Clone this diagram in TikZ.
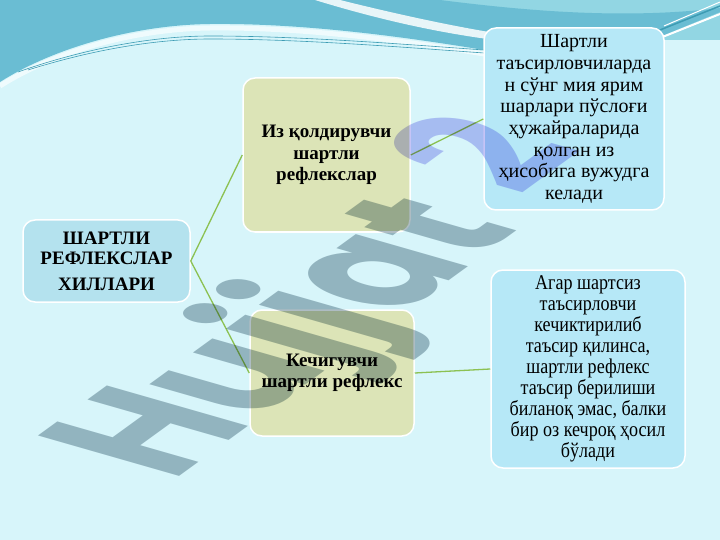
\documentclass[tikz,border=0pt]{standalone}
\usepackage{fontspec}
\setmainfont{Liberation Serif}
\newfontfamily\narrowfont[FakeStretch=0.86]{Liberation Serif}
\newfontfamily\markfont{Poppins}
\definecolor{slidebg}{HTML}{D7F5FA}
\definecolor{waveteal}{HTML}{6ABDD3}
\definecolor{wavelight}{HTML}{92D6E3}
\definecolor{waveline}{HTML}{3D9CB4}
\definecolor{rootfill}{HTML}{B4E2EE}
\definecolor{kindfill}{HTML}{DCE4B7}
\definecolor{notefill}{HTML}{B6E8F7}
\definecolor{linkgreen}{HTML}{8CC152}
\definecolor{markgray}{HTML}{AEBCC3}
\definecolor{markblue}{HTML}{C6C4F6}

\begin{document}
\begin{tikzpicture}[x=1pt,y=-1pt,
  box/.style={draw=white,line width=1.5pt,rounded corners=12pt,inner sep=0pt,align=center},
  rootbox/.style={box,fill=rootfill,font=\fontsize{19}{20}\selectfont\bfseries},
  kindbox/.style={box,fill=kindfill,font=\fontsize{19}{21.5}\selectfont\bfseries},
  notebox/.style={box,fill=notefill},
  link/.style={linkgreen,line width=1.3pt}]

\useasboundingbox (0,0) rectangle (720,540);
\clip (0,0) rectangle (720,540);
\fill[slidebg] (0,0) rectangle (720,540);

% wave at the top
\fill[wavelight] (440,0) -- (720,0) -- (720,40) -- (484,40) -- cycle;
\fill[waveteal] (0,0) -- (440,0) .. controls (520,10) and (620,20) .. (720,8) -- (720,12) -- (664,35) -- (484,50)
  .. controls (400,36) and (300,23) .. (210,24) .. controls (130,25) and (50,50) .. (0,82) -- cycle;
\draw[white,line width=5pt,opacity=.6] (0,86) .. controls (50,54) and (130,29) .. (210,28) .. controls (300,27) and (400,40) .. (484,54);
\draw[waveline,line width=.6pt] (18,72) .. controls (80,50) and (150,36) .. (210,36) .. controls (300,36) and (400,44) .. (484,50);
\draw[waveline,line width=.6pt] (28,70) .. controls (85,52) and (150,39) .. (210,39) .. controls (300,39) and (400,47) .. (484,53);
\fill[white,opacity=.85] (315,0) .. controls (380,20) and (440,33) .. (495,40) -- (495,33) .. controls (440,24) and (380,10) .. (340,0) -- cycle;
\draw[white,line width=2pt] (655,40) -- (720,14);
\draw[waveline,line width=1.5pt] (660,30) -- (720,6);
\draw[white,line width=1pt] (664,26) -- (720,2);

% boxes
\node[rootbox,minimum width=167pt,minimum height=82pt] (root) at (106.5,261) {ШАРТЛИ\\РЕФЛЕКСЛАР\\[6pt]ХИЛЛАРИ};
\node[kindbox,minimum width=167pt,minimum height=154pt] (iz) at (326.5,155) {Из қолдирувчи\\шартли\\рефлекслар};
\node[kindbox,minimum width=164pt,minimum height=126pt] (kech) at (332,373) {Кечигувчи\\шартли рефлекс};
\node[notebox,minimum width=180pt,minimum height=182pt,font=\fontsize{20}{21.7}\selectfont] (izinfo) at (574,119)
  {Шартли\\таъсирловчиларда\\н сўнг мия ярим\\шарлари пўслоғи\\ҳужайраларида\\қолган из\\ҳисобига вужудга\\келади};
\node[notebox,minimum width=194pt,minimum height=198pt,font=\narrowfont\fontsize{21}{21}\selectfont] (kechinfo) at (588,369)
  {Агар шартсиз\\таъсирловчи\\кечиктирилиб\\таъсир қилинса,\\шартли рефлекс\\таъсир берилиши\\биланоқ эмас, балки\\бир оз кечроқ ҳосил\\бўлади};

% links
\draw[link] (root.east) -- (iz.west);
\draw[link] (root.east) -- (kech.west);
\draw[link] (iz.east) -- (izinfo.west);
\draw[link] (kech.east) -- (kechinfo.west);

% watermark
\begin{scope}[blend mode=multiply,shift={(172,482)},cm={1.133,0.823,-2.01,0.576,(0,0)}]
\node[anchor=base west,transform shape,inner sep=0pt,text=markgray,font=\markfont\bfseries\fontsize{100}{100}\selectfont] (mark) at (0,0)
  {Hujjat\kern28pt\raisebox{16pt}{\textcolor{markblue}{2}}};
\end{scope}

\end{tikzpicture}
\end{document}
